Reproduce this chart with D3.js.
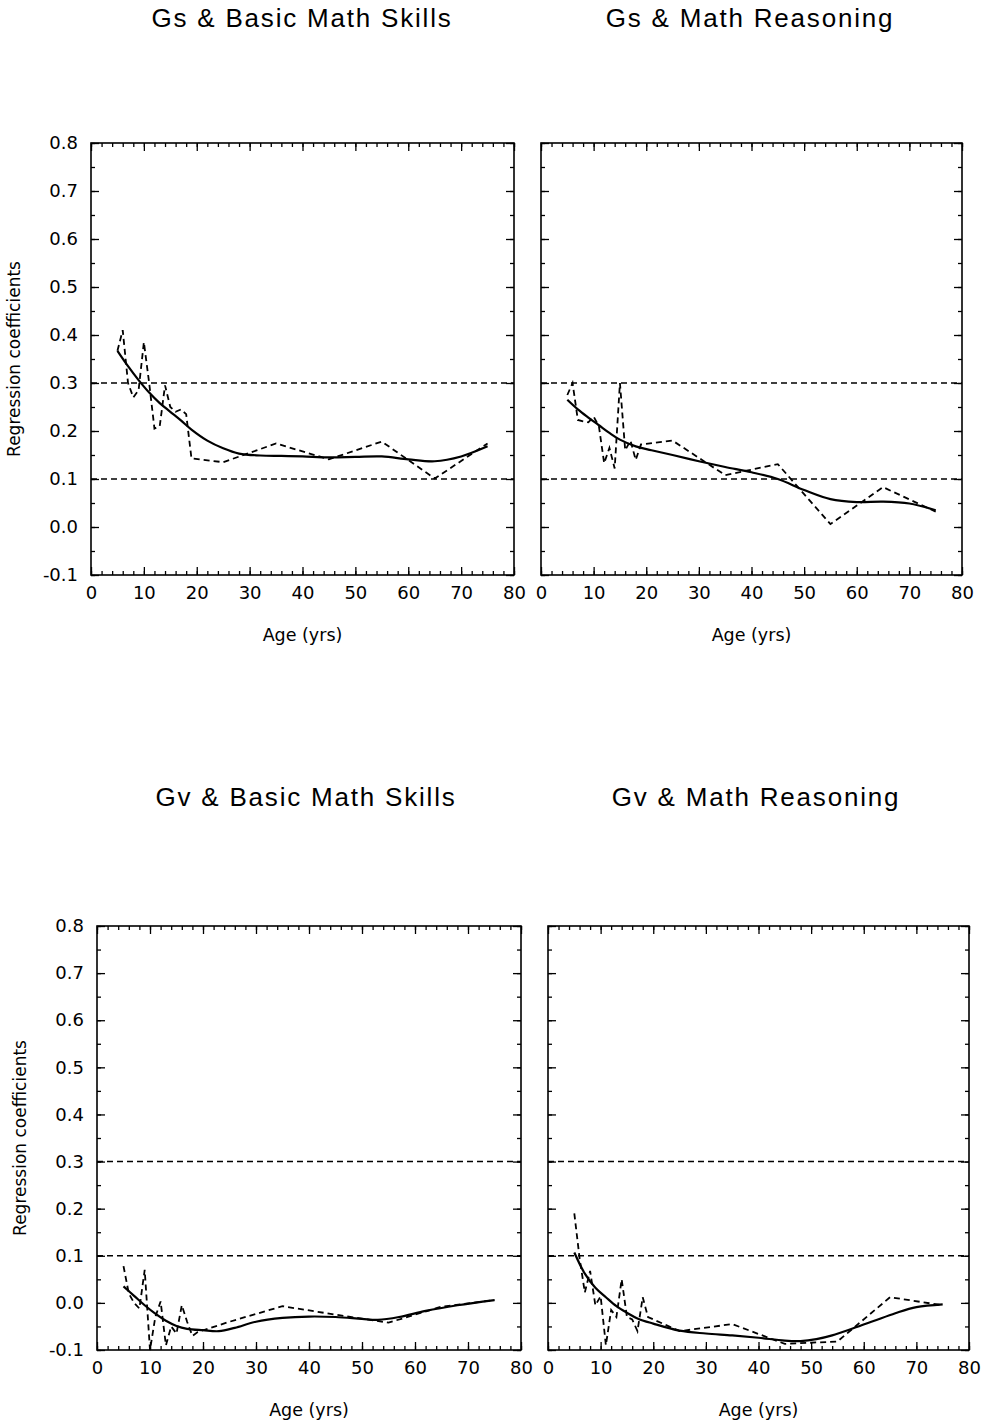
<!DOCTYPE html>
<html>
<head>
<meta charset="utf-8">
<script src="https://cdn.jsdelivr.net/npm/d3@7"></script>
<style>
  body { margin: 0; background: #fff; }
  svg { display: block; }
  text { font-family: "DejaVu Sans", sans-serif; fill: #000; }
</style>
</head>
<body>
<script>
// ages where the yearly coefficients were estimated
const obsAges = [5, 6, 7, 8, 9, 10, 11, 12, 13, 14, 15, 16, 17, 18, 19, 25, 35, 45, 55, 65, 75];

// dashed: raw coefficients per age group
const gsBasicObs = [0.367, 0.41, 0.30, 0.27, 0.285, 0.385, 0.30, 0.205, 0.21, 0.295, 0.25, 0.24, 0.245, 0.235, 0.143, 0.135, 0.174, 0.141, 0.178, 0.101, 0.174];
const gsReasonObs = [0.275, 0.30, 0.223, 0.22, 0.218, 0.23, 0.21, 0.133, 0.165, 0.122, 0.30, 0.16, 0.18, 0.14, 0.172, 0.18, 0.108, 0.131, 0.006, 0.083, 0.032];
const gvBasicObs = [0.078, 0.02, 0.0, -0.012, 0.07, -0.10, -0.03, 0.003, -0.09, -0.05, -0.065, -0.005, -0.04, -0.07, -0.062, -0.04, -0.007, -0.025, -0.042, -0.008, 0.006];
const gvReasonObs = [0.19, 0.095, 0.022, 0.068, -0.005, 0.014, -0.09, -0.015, -0.03, 0.05, -0.03, -0.035, -0.06, 0.012, -0.03, -0.06, -0.045, -0.087, -0.082, 0.012, -0.005];

// solid: smoothed curves
const gsBasicFitAges = [5, 7, 9, 11, 13, 15, 17, 19, 22, 25, 28, 32, 36, 40, 45, 50, 55, 60, 65, 70, 75];
const gsBasicFit = [0.367, 0.335, 0.306, 0.28, 0.258, 0.24, 0.222, 0.203, 0.18, 0.164, 0.153, 0.149, 0.148, 0.147, 0.145, 0.146, 0.147, 0.141, 0.137, 0.147, 0.168];
const gsReasonFitAges = [5, 7, 9, 11, 13, 15, 18, 21, 25, 30, 35, 40, 45, 50, 55, 60, 65, 70, 75];
const gsReasonFit = [0.265, 0.245, 0.228, 0.212, 0.196, 0.182, 0.168, 0.16, 0.15, 0.137, 0.125, 0.114, 0.100, 0.077, 0.058, 0.052, 0.053, 0.049, 0.035];
const gvBasicFitAges = [5, 7, 9, 11, 13, 15, 17, 20, 23, 26, 30, 35, 40, 45, 50, 53, 57, 62, 68, 75];
const gvBasicFit = [0.035, 0.015, -0.005, -0.023, -0.038, -0.049, -0.055, -0.058, -0.06, -0.053, -0.04, -0.032, -0.029, -0.03, -0.034, -0.036, -0.03, -0.017, -0.005, 0.006];
const gvReasonFitAges = [5, 7, 9, 11, 13, 15, 17, 20, 25, 30, 35, 40, 45, 48, 51, 54, 58, 62, 66, 70, 75];
const gvReasonFit = [0.107, 0.062, 0.032, 0.012, -0.007, -0.021, -0.033, -0.044, -0.059, -0.065, -0.069, -0.074, -0.08, -0.081, -0.077, -0.069, -0.054, -0.038, -0.022, -0.009, -0.003];

const titles = ["Gs & Basic Math Skills", "Gs & Math Reasoning", "Gv & Basic Math Skills", "Gv & Math Reasoning"];
const refLines = [0.1, 0.3];
const xTicks = [0, 10, 20, 30, 40, 50, 60, 70, 80];
const yTicks = [-0.1, 0.0, 0.1, 0.2, 0.3, 0.4, 0.5, 0.6, 0.7, 0.8];

const w = 985, h = 1423;

const panels = [
  {title: titles[0], obs: gsBasicObs, fitAges: gsBasicFitAges, fit: gsBasicFit, x0: 91, x1: 514, y0: 143, y1: 575, yLab: true, tx: 302, ty: 27},
  {title: titles[1], obs: gsReasonObs, fitAges: gsReasonFitAges, fit: gsReasonFit, x0: 541, x1: 962, y0: 143, y1: 575, yLab: false, tx: 750, ty: 27},
  {title: titles[2], obs: gvBasicObs, fitAges: gvBasicFitAges, fit: gvBasicFit, x0: 97, x1: 521, y0: 926, y1: 1350, yLab: true, tx: 306, ty: 806},
  {title: titles[3], obs: gvReasonObs, fitAges: gvReasonFitAges, fit: gvReasonFit, x0: 548, x1: 969, y0: 926, y1: 1350, yLab: false, tx: 756, ty: 806}
];

const svg = d3.select("body").append("svg")
  .attr("width", w)
  .attr("height", h);

panels.forEach(drawPanel);

function drawPanel(p) {
  const x = d3.scaleLinear().domain([0, 80]).range([p.x0, p.x1]);
  const y = d3.scaleLinear().domain([-0.1, 0.8]).range([p.y1, p.y0]);
  const g = svg.append("g");

  g.append("text")
    .attr("x", p.tx)
    .attr("y", p.ty)
    .attr("text-anchor", "middle")
    .style("font-family", "'Liberation Sans', Arial, sans-serif")
    .style("font-size", "26px")
    .style("letter-spacing", "1.8px")
    .text(p.title);

  // minor ticks, all four sides, pointing in
  const minorX = d3.range(0, 81, 2);
  const minorY = d3.range(-0.1, 0.801, 0.05);
  g.append("g").attr("transform", "translate(0," + p.y1 + ")")
    .call(d3.axisBottom(x).tickValues(minorX).tickSize(-4).tickFormat(""));
  g.append("g").attr("transform", "translate(0," + p.y0 + ")")
    .call(d3.axisTop(x).tickValues(minorX).tickSize(-4).tickFormat(""));
  g.append("g").attr("transform", "translate(" + p.x0 + ",0)")
    .call(d3.axisLeft(y).tickValues(minorY).tickSize(-4).tickFormat(""));
  g.append("g").attr("transform", "translate(" + p.x1 + ",0)")
    .call(d3.axisRight(y).tickValues(minorY).tickSize(-4).tickFormat(""));

  // major ticks
  g.append("g").attr("transform", "translate(0," + p.y1 + ")")
    .call(d3.axisBottom(x).tickValues(xTicks).tickSizeInner(-8).tickSizeOuter(0).tickPadding(11).tickFormat(d3.format("d")));
  g.append("g").attr("transform", "translate(0," + p.y0 + ")")
    .call(d3.axisTop(x).tickValues(xTicks).tickSize(-8).tickFormat(""));
  const yAxis = g.append("g").attr("transform", "translate(" + p.x0 + ",0)")
    .call(d3.axisLeft(y).tickValues(yTicks).tickSizeInner(-8).tickSizeOuter(0).tickPadding(13)
      .tickFormat(p.yLab ? d3.format(".1f") : ""));
  g.append("g").attr("transform", "translate(" + p.x1 + ",0)")
    .call(d3.axisRight(y).tickValues(yTicks).tickSize(-8).tickFormat(""));

  g.selectAll(".domain").remove();
  g.selectAll(".tick line").attr("stroke", "#000").attr("stroke-width", 1.3);
  g.selectAll(".tick text").style("font-family", "'DejaVu Sans', sans-serif").style("font-size", "18px").attr("fill", "#000");
  yAxis.selectAll(".tick text").text(d => p.yLab ? d3.format(".1f")(d).replace("−", "-") : "");

  g.append("rect")
    .attr("x", p.x0).attr("y", p.y0)
    .attr("width", p.x1 - p.x0).attr("height", p.y1 - p.y0)
    .attr("fill", "none").attr("stroke", "#000").attr("stroke-width", 1.6);

  g.append("text")
    .attr("x", (p.x0 + p.x1) / 2)
    .attr("y", p.y1 + 66)
    .attr("text-anchor", "middle")
    .style("font-size", "17.5px")
    .text("Age (yrs)");

  if (p.yLab) {
    g.append("text")
      .attr("transform", "translate(" + (p.x0 - 71) + "," + ((p.y0 + p.y1) / 2) + ") rotate(-90)")
      .attr("text-anchor", "middle")
      .style("font-size", "17px")
      .text("Regression coefficients");
  }

  g.selectAll(".ref")
    .data(refLines)
    .enter().append("line")
    .attr("x1", p.x0).attr("x2", p.x1)
    .attr("y1", d => y(d)).attr("y2", d => y(d))
    .attr("stroke", "#000").attr("stroke-width", 1.5)
    .attr("stroke-dasharray", "6,4");

  const obsLine = d3.line().x((d, i) => x(obsAges[i])).y(d => y(d));
  g.append("path")
    .attr("d", obsLine(p.obs))
    .attr("fill", "none").attr("stroke", "#000").attr("stroke-width", 1.8)
    .attr("stroke-dasharray", "6,4");

  const fitLine = d3.line().x((d, i) => x(p.fitAges[i])).y(d => y(d)).curve(d3.curveCatmullRom.alpha(0.5));
  g.append("path")
    .attr("d", fitLine(p.fit))
    .attr("fill", "none").attr("stroke", "#000").attr("stroke-width", 2.2);
}
</script>
</body>
</html>
